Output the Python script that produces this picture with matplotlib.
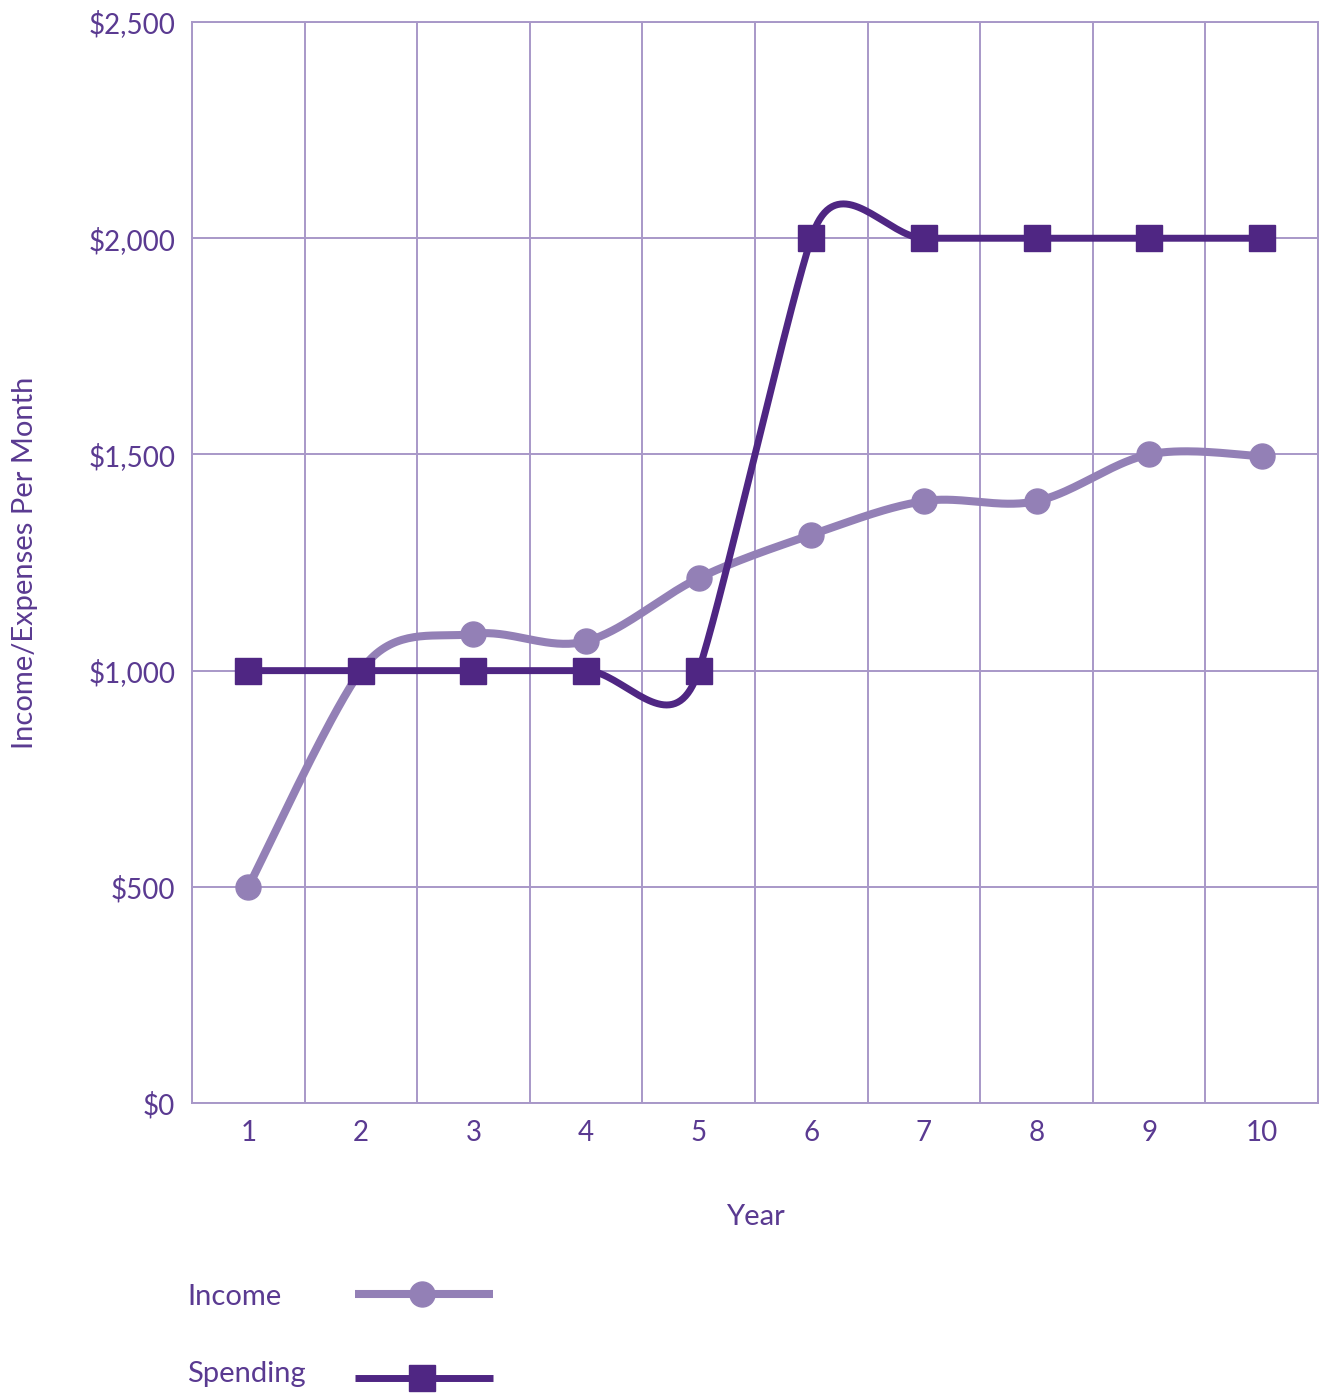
import numpy as np
import matplotlib.pyplot as plt
from matplotlib.lines import Line2D

plt.rcParams['font.family'] = ['Lato', 'DejaVu Sans']

# data
years = [1, 2, 3, 4, 5, 6, 7, 8, 9, 10]
income = [500, 1000, 1085, 1068, 1214, 1314, 1392, 1392, 1500, 1496]
spending = [1000, 1000, 1000, 1000, 1000, 2000, 2000, 2000, 2000, 2000]
y_ticks = [0, 500, 1000, 1500, 2000, 2500]
y_labels = ["$0", "$500", "$1,000", "$1,500", "$2,000", "$2,500"]

c_income = "#9380b6"
c_spend = "#4f2683"
c_grid = "#a898c8"
c_text = "#5a3a91"


def smooth(ax, xs, ys, n=40):
    # bezier smoothing done in screen space; the tangent leans toward the longer neighbour segment
    pts = ax.transData.transform(np.column_stack([xs, ys]))
    out = []
    tans = []
    for i in range(len(pts)):
        a = pts[max(i - 1, 0)]
        b = pts[i]
        c = pts[min(i + 1, len(pts) - 1)]
        e1, e2 = b - a, c - b
        d = e1 * np.hypot(*e1) + e2 * np.hypot(*e2)
        u = d / np.hypot(*d)
        tans.append(u * np.hypot(*(c - a)) / 6)
    t = np.linspace(0, 1, n)[:, None]
    for i in range(len(pts) - 1):
        p0, p3 = pts[i], pts[i + 1]
        p1 = p0 + tans[i]
        p2 = p3 - tans[i + 1]
        seg = (1 - t)**3 * p0 + 3 * (1 - t)**2 * t * p1 + 3 * (1 - t) * t**2 * p2 + t**3 * p3
        out.append(seg)
    out = ax.transData.inverted().transform(np.vstack(out))
    return out[:, 0], out[:, 1]


fig = plt.figure(figsize=(13.22, 13.95), dpi=100)
ax = fig.add_axes([0.1452, 0.2093, 0.8518, 0.7749])
ax.set_xlim(0.5, 10.5)
ax.set_ylim(0, 2500)

sx, sy = smooth(ax, years, income)
ax.plot(sx, sy, color=c_income, lw=5.8, solid_capstyle='round', zorder=3)
ax.plot(years, income, 'o', color=c_income, ms=18, zorder=4)

sx, sy = smooth(ax, years, spending)
ax.plot(sx, sy, color=c_spend, lw=5.0, zorder=5)
ax.plot(years, spending, 's', color=c_spend, ms=19, zorder=6)

ax.set_xticks(years)
ax.set_xticks(np.arange(0.5, 11, 1), minor=True)
ax.set_yticks(y_ticks)
ax.set_yticklabels(y_labels)
ax.tick_params(which='both', length=0, colors=c_text, labelsize=20)
ax.tick_params(axis='y', pad=12)
ax.tick_params(axis='x', pad=12)
ax.grid(True, which='minor', axis='x', color=c_grid, lw=1.4)
ax.grid(True, which='major', axis='y', color=c_grid, lw=1.4)
ax.set_axisbelow(True)
for s in ax.spines.values():
    s.set_color(c_grid)
    s.set_linewidth(1.4)

ax.set_xlabel("Year", color=c_text, fontsize=21, labelpad=42)
ax.set_ylabel("Income/Expenses Per Month", color=c_text, fontsize=21, labelpad=36)

# legend, drawn by hand
W, H = 1322, 1395
fig.text(187 / W, 1 - 1297 / H, "Income", color=c_text, fontsize=21, va='center')
fig.text(187 / W, 1 - 1374 / H, "Spending", color=c_text, fontsize=21, va='center')
fig.add_artist(Line2D([355 / W, 493 / W], [1 - 1294 / H] * 2, color=c_income, lw=5.8,
                      solid_capstyle='butt'))
fig.add_artist(Line2D([422 / W], [1 - 1294 / H], marker='o', color=c_income, ms=18))
fig.add_artist(Line2D([355 / W, 493 / W], [1 - 1378 / H] * 2, color=c_spend, lw=5.0,
                      solid_capstyle='butt'))
fig.add_artist(Line2D([422 / W], [1 - 1378 / H], marker='s', color=c_spend, ms=19))

fig.savefig("out.png", dpi=100)
